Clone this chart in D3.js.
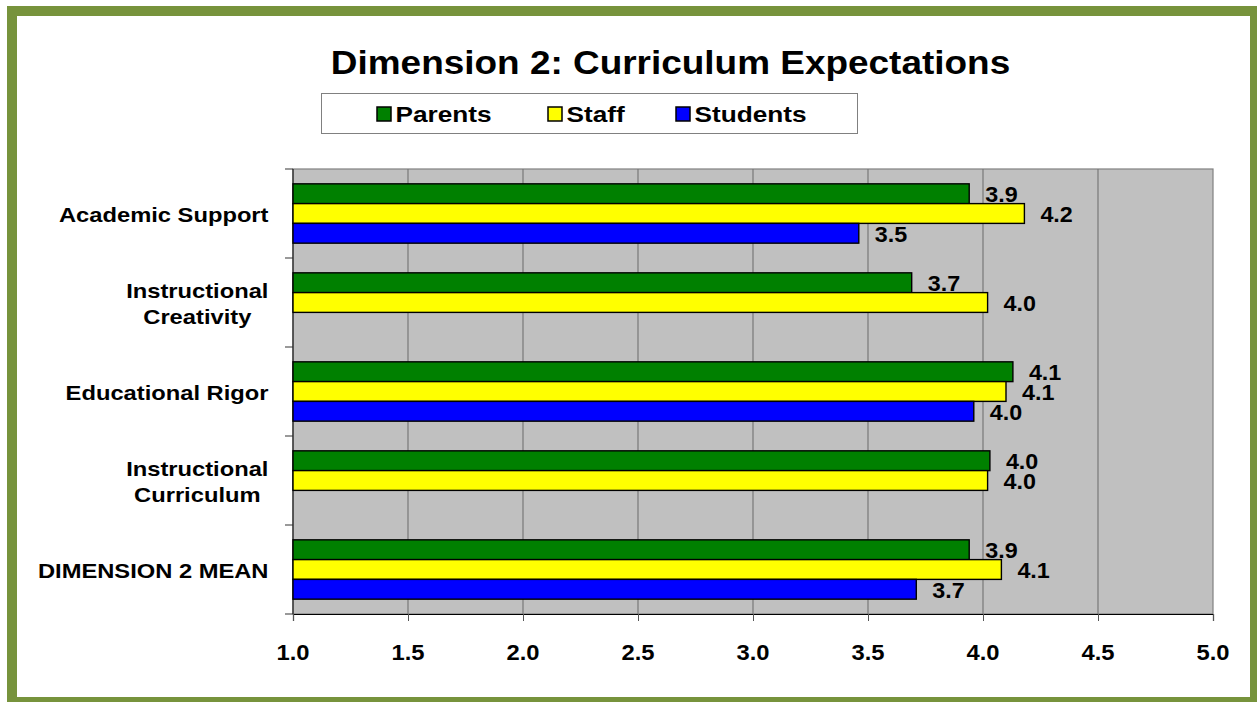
<!DOCTYPE html>
<html><head><meta charset="utf-8">
<script src="https://cdn.jsdelivr.net/npm/d3@7"></script>
<style>
body{margin:0;background:#fff}
svg text{font-family:Arial,"Liberation Sans",sans-serif;font-weight:bold;fill:#000}
</style>
</head><body>
<svg id="chart" width="1257" height="702"></svg>
<script>
// ---------- data ----------
const title = "Dimension 2: Curriculum Expectations";
const categories = ["Academic Support","Instructional Creativity","Educational Rigor","Instructional Curriculum","DIMENSION 2 MEAN"];
const categoryLines = [["Academic Support"],["Instructional","Creativity"],["Educational Rigor"],["Instructional","Curriculum"],["DIMENSION 2 MEAN"]];
const seriesNames = ["Parents","Staff","Students"];
const parents  = [3.94, 3.69, 4.13, 4.03, 3.94];
const staff    = [4.18, 4.02, 4.10, 4.02, 4.08];
const students = [3.46, null, 3.96, null, 3.71];
const xTicks = [1.0,1.5,2.0,2.5,3.0,3.5,4.0,4.5,5.0];
const seriesColors = ["#008000","#FFFF00","#0000FF"];

// ---------- layout ----------
const svg = d3.select("#chart");
const plot = {left:293, right:1213, top:169, bottom:614};
const x = d3.scaleLinear().domain([1,5]).range([plot.left, plot.right]);
const y = d3.scaleBand().domain(categories).range([plot.top, plot.bottom]);
const inner = d3.scaleBand().domain(seriesNames).range([0, y.bandwidth()]).paddingInner(0).paddingOuter(0.75);
const color = d3.scaleOrdinal().domain(seriesNames).range(seriesColors);
const fmt = d3.format(".1f");

const seriesValues = [parents, staff, students];
const data = [];
seriesNames.forEach((s,si)=>{
  categories.forEach((c,ci)=>{ data.push({series:s, cat:c, value:seriesValues[si][ci]}); });
});

function sText(parent, tx, ty, sx, str, size, anchor){
  const g = parent.append("g").attr("transform",`translate(${tx},${ty}) scale(${sx},1)`);
  const t = g.append("text").attr("x",0).attr("y",0).style("font-size",size+"px")
    .attr("text-anchor",anchor||"start").text(str);
  return t;
}

// outer frame
svg.append("rect").attr("x",12).attr("y",11).attr("width",1243).attr("height",691)
  .attr("fill","#fff").attr("stroke","#77933C").attr("stroke-width",10);

// title
sText(svg, 670.5, 74, 1.12, title, 33, "middle");

// legend
svg.append("rect").attr("x",321.5).attr("y",93.5).attr("width",536).attr("height",40)
  .attr("fill","#fff").attr("stroke","#808080").attr("stroke-width",1);
const legendX = [377, 548, 676];
seriesNames.forEach((s,i)=>{
  svg.append("rect").attr("x",legendX[i]).attr("y",107).attr("width",14).attr("height",14)
    .attr("fill",color(s)).attr("stroke","#000").attr("stroke-width",1.5);
  sText(svg, legendX[i]+18.5, 122, 1.17, s, 22.4, "start");
});

// plot area
svg.append("rect").attr("x",plot.left).attr("y",plot.top)
  .attr("width",plot.right-plot.left).attr("height",plot.bottom-plot.top)
  .attr("fill","#C0C0C0").attr("stroke","#808080").attr("stroke-width",1.2);

// gridlines
svg.append("g").selectAll("line").data(xTicks.slice(1,-1)).join("line")
  .attr("x1",d=>x(d)).attr("x2",d=>x(d)).attr("y1",plot.top).attr("y2",plot.bottom)
  .attr("stroke","#777").attr("stroke-width",1.2);

// x axis
const xAxis = d3.axisBottom(x).tickValues(xTicks).tickSize(7).tickFormat(fmt);
const gx = svg.append("g").attr("transform",`translate(0,${plot.bottom})`).call(xAxis);
gx.select(".domain").attr("stroke","#000").attr("stroke-width",1.2);
gx.selectAll(".tick line").attr("stroke","#555");
gx.selectAll(".tick text").remove();
xTicks.forEach(t=>{ sText(svg, x(t), 660, 1.07, fmt(t), 22.2, "middle"); });

// y axis (ticks at band boundaries)
const bounds = categories.map(c=>y(c)).concat([plot.bottom]);
svg.append("g").selectAll("line").data(bounds).join("line")
  .attr("x1",plot.left-8).attr("x2",plot.left).attr("y1",d=>d).attr("y2",d=>d)
  .attr("stroke","#555").attr("stroke-width",1.2);
svg.append("line").attr("x1",plot.left).attr("x2",plot.left).attr("y1",plot.top).attr("y2",plot.bottom)
  .attr("stroke","#222").attr("stroke-width",1.2);

// category labels
const labelRight = 268.5, catSx = 1.13, catSize = 21;
categories.forEach((c,i)=>{
  const lines = categoryLines[i];
  const cy = y(c) + y.bandwidth()/2;
  if(lines.length===1){
    sText(svg, labelRight, cy+8.5, catSx, lines[0], catSize, "end");
  } else {
    // measure widest line
    const tmp = svg.append("text").style("font-size",catSize+"px");
    let maxW = 0;
    lines.forEach(l=>{ tmp.text(l); maxW = Math.max(maxW, tmp.node().getComputedTextLength()); });
    tmp.remove();
    const cx = labelRight - maxW*catSx/2;
    lines.forEach((l,k)=>{
      sText(svg, cx, cy + 8.5 + (k - (lines.length-1)/2)*26, catSx, l, catSize, "middle");
    });
  }
});

// data labels (drawn beneath bars, as in reference)
const barCenter = d => y(d.cat) + inner(d.series) + inner.bandwidth()/2;
data.filter(d=>d.value!=null).forEach(d=>{
  sText(svg, x(d.value)+16, barCenter(d)+8.5, 1.05, fmt(d.value), 22.2, "start");
});

// bars
svg.append("g").selectAll("rect").data(data).join("rect")
  .attr("x", plot.left)
  .attr("y", d=>y(d.cat)+inner(d.series))
  .attr("height", inner.bandwidth())
  .attr("width", d=> d.value==null ? 0 : x(d.value)-plot.left)
  .attr("fill", d=>color(d.series))
  .attr("stroke","#000").attr("stroke-width",1.4);
</script>
</body></html>
